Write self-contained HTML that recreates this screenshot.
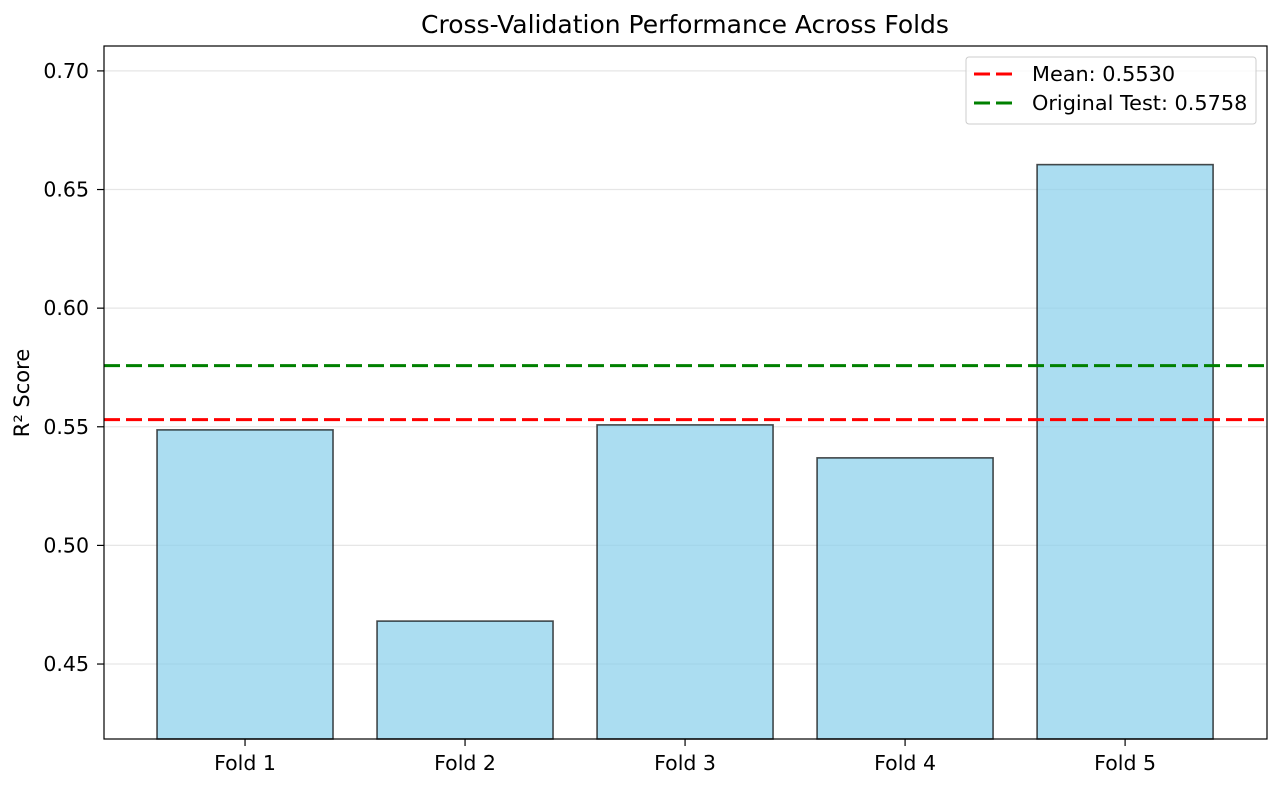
<!DOCTYPE html>
<html><head><meta charset="utf-8"><style>
body{margin:0;background:#fff;}
svg text{font-family:"DejaVu Sans","Liberation Sans",sans-serif;}
</style></head><body>
<svg id="chart" width="1281" height="789" xmlns="http://www.w3.org/2000/svg">
<rect width="1281" height="789" fill="#fff"/>
<text x="685" y="33" font-size="25" text-anchor="middle" fill="#000">Cross-Validation Performance Across Folds</text>
<g id="grid"></g><g id="bars"></g><g id="lines"></g><g id="yticks"></g><g id="xticks"></g>
<rect x="104" y="46" width="1163" height="693" fill="none" stroke="#000" stroke-width="1.2"/>
<text transform="translate(29,393) rotate(-90)" font-size="21" text-anchor="middle">R² Score</text>
<g>
<rect x="966" y="57" width="290" height="67" rx="3" fill="#fff" fill-opacity="0.8" stroke="#ccc" stroke-width="1"/>
<line x1="974" y1="74" x2="1014" y2="74" stroke="red" stroke-width="3" stroke-dasharray="16,6"/>
<text x="1032" y="81" font-size="20.8">Mean: 0.5530</text>
<line x1="974" y1="103" x2="1014" y2="103" stroke="green" stroke-width="3" stroke-dasharray="16,6"/>
<text x="1032" y="110" font-size="20.8">Original Test: 0.5758</text>
</g>
</svg>
<script>
const categories=["Fold 1","Fold 2","Fold 3","Fold 4","Fold 5"];
const scores=[0.5487,0.4681,0.5508,0.5369,0.6605];
const meanScore=0.5530;
const testScore=0.5758;
const yTicks=[0.45,0.50,0.55,0.60,0.65,0.70];
const yTickLabels=["0.45","0.50","0.55","0.60","0.65","0.70"];
const NS="http://www.w3.org/2000/svg";
const L=104,R=1267,T=46,B=739,ymin=0.4184,ymax=0.7105,xmin=-0.641,xmax=4.645;
const y=v=>B-(v-ymin)/(ymax-ymin)*(B-T);
const x=i=>L+(i-xmin)/(xmax-xmin)*(R-L);
function mk(t,a,p){const e=document.createElementNS(NS,t);for(const k in a)e.setAttribute(k,a[k]);document.getElementById(p).appendChild(e);return e;}
yTicks.forEach((v,i)=>{
 const g=mk("line",{x1:L,x2:R,y1:y(v),y2:y(v),stroke:"#e6e6e6","stroke-width":1.3},"grid");
 
 
 const tk=mk("line",{x1:L-7,x2:L,y1:y(v),y2:y(v),stroke:"#000","stroke-width":1.2},"yticks");
 
 
 const t=mk("text",{x:L-15,y:y(v)+7,"text-anchor":"end","font-size":"20.5"},"yticks");
 t.textContent=yTickLabels[i];
 
 
});
const bw=0.8*(x(1)-x(0));
scores.forEach((v,i)=>{
 const r=mk("rect",{x:x(i)-bw/2,y:y(v),width:bw,height:B-y(v),fill:"#87ceeb","fill-opacity":0.7,stroke:"#000","stroke-opacity":0.7,"stroke-width":1.6},"bars");
 
 
 const tk=mk("line",{x1:x(i),x2:x(i),y1:B,y2:B+7,stroke:"#000","stroke-width":1.2},"xticks");
 
 
 const t=mk("text",{x:x(i),y:B+31,"text-anchor":"middle","font-size":"20.5"},"xticks");
 t.textContent=categories[i];
 
 
});
const m=mk("line",{x1:L,x2:R,y1:y(meanScore),y2:y(meanScore),stroke:"red","stroke-width":3,"stroke-dasharray":"16,6"},"lines");


const o=mk("line",{x1:L,x2:R,y1:y(testScore),y2:y(testScore),stroke:"green","stroke-width":3,"stroke-dasharray":"16,6"},"lines");


</script>
</body></html>
